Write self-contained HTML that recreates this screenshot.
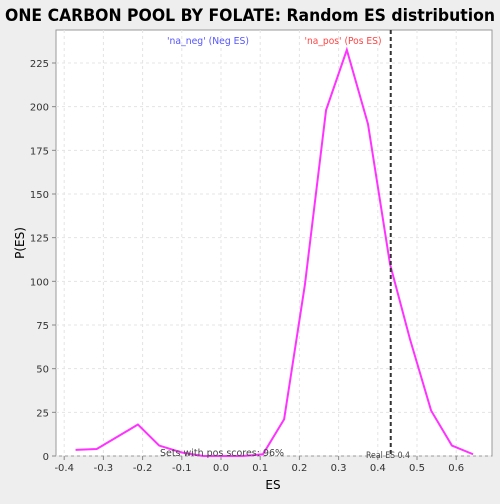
<!DOCTYPE html>
<html><head><meta charset="utf-8"><style>
body{margin:0;background:#eeeeee;font-family:"DejaVu Sans","Liberation Sans",sans-serif}
</style></head><body>
<svg id="c" width="500" height="500" xmlns="http://www.w3.org/2000/svg">
<text x="250" y="21" text-anchor="middle" font-size="17" font-weight="bold" textLength="490" lengthAdjust="spacingAndGlyphs">ONE CARBON POOL BY FOLATE: Random ES distribution</text>
<rect x="56" y="30" width="436" height="426" fill="#fff" stroke="#999"/>
<g id="grid"></g><g id="axes"></g><g id="marks"></g>
<text x="208" y="44" text-anchor="middle" font-size="10" textLength="82" lengthAdjust="spacingAndGlyphs" fill="#5555ff">'na_neg' (Neg ES)</text>
<text x="343" y="44" text-anchor="middle" font-size="10" textLength="77" lengthAdjust="spacingAndGlyphs" fill="#ff4444">'na_pos' (Pos ES)</text>
<text x="222" y="456" text-anchor="middle" font-size="10" textLength="124" lengthAdjust="spacingAndGlyphs" fill="#444">Sets with pos scores: 96%</text>
<text x="388" y="458" text-anchor="middle" font-size="9" textLength="44" lengthAdjust="spacingAndGlyphs" fill="#444">Real ES 0.4</text>
<text x="273" y="489" text-anchor="middle" font-size="12">ES</text>
<text x="24" y="243" text-anchor="middle" font-size="12" transform="rotate(-90 24 243)">P(ES)</text>
</svg>
<script>
const esValues=[-0.371,-0.317,-0.212,-0.158,-0.1,-0.046,0.003,0.056,0.107,0.161,0.214,0.268,0.321,0.375,0.431,0.482,0.536,0.589,0.643];
const pValues=[3.5,4,18,6,2,0,0,0,1,21,98,198,232.5,190,110,67,26,6,1];
const xTicks=[-0.4,-0.3,-0.2,-0.1,0.0,0.1,0.2,0.3,0.4,0.5,0.6];
const yTicks=[0,25,50,75,100,125,150,175,200,225];
const realES=[0.433];
const ns="http://www.w3.org/2000/svg";
const X=v=>221+v*392, Y=v=>456-v*1.7467;
function mk(t,a,p){const e=document.createElementNS(ns,t);for(const k in a)e.setAttribute(k,a[k]);p.appendChild(e);return e;}
const g=document.getElementById('grid'),ax=document.getElementById('axes'),m=document.getElementById('marks');
xTicks.forEach(t=>{
 const l=mk('line',{x1:X(t),x2:X(t),y1:30,y2:456,stroke:'#e4e4e4','stroke-dasharray':'3,3'},g);
 
 const k=mk('line',{x1:X(t),x2:X(t),y1:456,y2:460,stroke:'#888'},ax);
 
 const s=mk('text',{x:X(t),y:471,'text-anchor':'middle','font-size':'10',fill:'#333'},ax);
 s.textContent=t.toFixed(1);
 
});
yTicks.forEach(t=>{
 const l=mk('line',{x1:56,x2:492,y1:Y(t),y2:Y(t),stroke:'#e4e4e4','stroke-dasharray':'3,3'},g);
 
 const k=mk('line',{x1:52,x2:56,y1:Y(t),y2:Y(t),stroke:'#888'},ax);
 
 const s=mk('text',{x:49,y:Y(t)+4,'text-anchor':'end','font-size':'10',fill:'#333'},ax);
 s.textContent=t;
 
});
const pl=mk('polyline',{points:esValues.map((v,i)=>X(v)+','+Y(pValues[i])).join(' '),fill:'none',stroke:'#ff33ff','stroke-width':'2'},m);

realES.forEach(v=>{
 const r=mk('line',{x1:X(v),x2:X(v),y1:30,y2:456,stroke:'#333','stroke-width':'2','stroke-dasharray':'4,3'},m);
 
});
</script>
</body></html>
